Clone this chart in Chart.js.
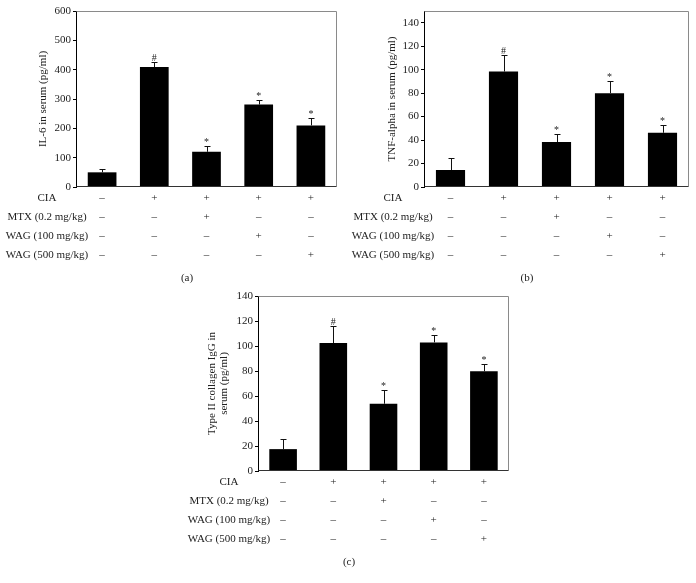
<!DOCTYPE html>
<html><head><meta charset="utf-8">
<script src="https://cdn.jsdelivr.net/npm/chart.js@4/dist/chart.umd.min.js"></script>
<style>
html,body{margin:0;padding:0;background:#fff;width:696px;height:583px;overflow:hidden}
.p{position:absolute}
</style></head><body>
<div class="p" style="left:0;top:0;width:348px;height:290px"><canvas id="ca"></canvas></div>
<div class="p" style="left:348px;top:0;width:348px;height:290px"><canvas id="cb"></canvas></div>
<div class="p" style="left:170px;top:285px;width:356px;height:298px"><canvas id="cc"></canvas></div>
<script>
const categories = ['Normal', 'CIA', 'CIA + MTX', 'CIA + WAG 100', 'CIA + WAG 500'];

const il6Values = [50, 409, 120, 281, 210];
const il6Errors = [11, 18, 19, 16, 24];
const il6Marks = ['', '#', '*', '*', '*'];
const il6Ticks = [0, 100, 200, 300, 400, 500, 600];

const tnfValues = [14.5, 98.4, 38.3, 80, 46.2];
const tnfErrors = [10.5, 14.5, 6.5, 10.7, 7];
const tnfMarks = ['', '#', '*', '*', '*'];
const tnfTicks = [0, 20, 40, 60, 80, 100, 120, 140];

const igGValues = [17.5, 102.4, 53.8, 102.9, 79.8];
const igGErrors = [8.5, 13.5, 11.4, 5.5, 6];
const igGMarks = ['', '#', '*', '*', '*'];
const igGTicks = [0, 20, 40, 60, 80, 100, 120, 140];

const tableRows = ['CIA', 'MTX (0.2 mg/kg)', 'WAG (100 mg/kg)', 'WAG (500 mg/kg)'];
const tableSigns = [
  ['–', '+', '+', '+', '+'],
  ['–', '–', '+', '–', '–'],
  ['–', '–', '–', '+', '–'],
  ['–', '–', '–', '–', '+']
];

const FONT = '"Liberation Serif", "Times New Roman", serif';
const TXT = '#222';

const panelPlugin = {
  id: 'panel',
  afterDatasetsDraw(chart, args, o) {
    const ctx = chart.ctx, y = chart.scales.y, meta = chart.getDatasetMeta(0);
    const ds = chart.data.datasets[0];
    ctx.save();
    ctx.strokeStyle = '#111'; ctx.lineWidth = 1;
    meta.data.forEach((bar, i) => {
      const v = ds.data[i], e = o.errors[i];
      const x = Math.round(bar.x) + 0.5;
      const yt = Math.round(y.getPixelForValue(v + e)) + 0.5;
      const yb = y.getPixelForValue(v);
      ctx.beginPath();
      ctx.moveTo(x, yb); ctx.lineTo(x, yt);
      ctx.moveTo(x - 3, yt); ctx.lineTo(x + 3, yt);
      ctx.stroke();
      if (o.marks[i]) {
        ctx.fillStyle = TXT;
        ctx.font = '10px ' + FONT;
        ctx.textAlign = 'center'; ctx.textBaseline = 'alphabetic';
        ctx.fillText(o.marks[i], bar.x, yt - 2);
      }
    });
    ctx.restore();
  },
  afterDraw(chart, args, o) {
    const ctx = chart.ctx, ca = chart.chartArea, meta = chart.getDatasetMeta(0);
    ctx.save();
    const L = Math.round(ca.left) + 0.5, R = Math.round(ca.right) - 0.5;
    const T = Math.round(ca.top) + 0.5, B = Math.round(ca.bottom) - 0.5;
    ctx.lineWidth = 1;
    ctx.strokeStyle = '#8a8a8a';
    ctx.beginPath(); ctx.moveTo(L, T); ctx.lineTo(R, T); ctx.lineTo(R, B); ctx.stroke();
    ctx.strokeStyle = '#333';
    ctx.beginPath(); ctx.moveTo(L, B); ctx.lineTo(R, B); ctx.stroke();
    ctx.fillStyle = TXT;
    ctx.font = '11px ' + FONT;
    ctx.textBaseline = 'middle';
    o.rows.forEach((label, r) => {
      const yy = ca.bottom + o.rowY[r];
      ctx.textAlign = 'center';
      ctx.fillText(label, ca.left + o.labelDx, yy);
      o.signs[r].forEach((s, i) => {
        ctx.fillText(s, meta.data[i].x, yy);
      });
    });
    ctx.textAlign = 'center';
    ctx.fillText(o.caption, o.captionX, ca.bottom + 91);
    ctx.restore();
  }
};

function build(id, values, errors, marks, ticks, yMax, title, caption, g) {
  return new Chart(document.getElementById(id), {
    type: 'bar',
    data: {
      labels: categories,
      datasets: [{ data: values, backgroundColor: '#000', borderWidth: 0,
        barPercentage: 0.55, categoryPercentage: 1 }]
    },
    options: {
      responsive: true, maintainAspectRatio: false, animation: false,
      devicePixelRatio: 1,
      layout: { padding: { left: 0, top: g.top, right: g.right, bottom: g.bottom } },
      plugins: {
        legend: { display: false }, tooltip: { enabled: false },
        panel: { errors, marks, rows: tableRows, signs: tableSigns,
          rowY: [11, 30, 49.3, 68.6], labelDx: g.labelDx, caption, captionX: g.captionX }
      },
      scales: {
        x: { display: false, offset: true },
        y: {
          min: 0, max: yMax,
          afterFit: s => { s.width = g.yWidth; },
          afterBuildTicks: s => { s.ticks = ticks.map(v => ({ value: v })); },
          ticks: { color: TXT, padding: 2, font: { family: FONT, size: 11 } },
          grid: { display: true, drawOnChartArea: false, drawTicks: true, tickLength: 3, color: '#000' },
          border: { display: true, color: '#000', width: 1 },
          title: { display: true, text: title, color: TXT,
            font: { family: FONT, size: 11, lineHeight: 1.15 },
            padding: { top: g.titlePad, bottom: 0 } }
        }
      }
    },
    plugins: [panelPlugin]
  });
}

build('ca', il6Values, il6Errors, il6Marks, il6Ticks, 600, 'IL-6 in serum (pg/ml)', '(a)',
  { top: 11, right: 11, bottom: 103, yWidth: 76, titlePad: 36.7, labelDx: -29, captionX: 187 });
build('cb', tnfValues, tnfErrors, tnfMarks, tnfTicks, 150, 'TNF-alpha in serum (pg/ml)', '(b)',
  { top: 11, right: 7, bottom: 103, yWidth: 76, titlePad: 37.7, labelDx: -31, captionX: 179 });
build('cc', igGValues, igGErrors, igGMarks, igGTicks, 140, ['Type II collagen IgG in', 'serum (pg/ml)'], '(c)',
  { top: 11, right: 17, bottom: 112, yWidth: 88, titlePad: 35.4, labelDx: -29, captionX: 179 });
</script>
</body></html>
